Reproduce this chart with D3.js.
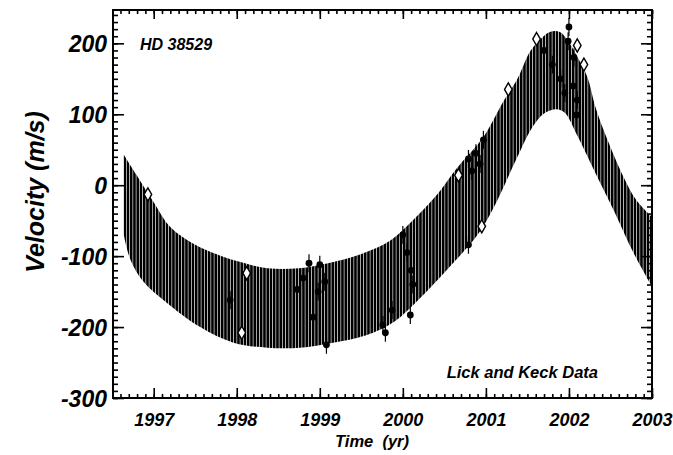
<!DOCTYPE html>
<html>
<head>
<meta charset="utf-8">
<script src="https://cdn.jsdelivr.net/npm/d3@7"></script>
<style>
  body { margin: 0; background: #fff; }
  svg text { font-family: "Liberation Sans", Arial, sans-serif; font-weight: bold; font-style: italic; fill: #000; }
</style>
</head>
<body>
<svg id="chart" width="673" height="455"></svg>
<script>
// Model band envelope: time in yr, velocity in m/s
const upperT = [1996.64, 1996.79, 1997.0, 1997.2, 1997.5, 1997.75, 1998.0, 1998.37, 1998.75, 1999.1, 1999.5, 1999.85, 2000.1, 2000.4, 2000.65, 2000.97, 2001.21, 2001.38, 2001.53, 2001.65, 2001.77, 2001.89, 2001.98, 2002.1, 2002.22, 2002.32, 2002.45, 2002.66, 2002.81, 2003.0];
const upperV = [43, 15, -24, -59, -84, -97, -107, -117, -117, -110, -97, -78, -52, -15, 24, 68, 118, 150, 188, 205, 216, 216, 205, 181, 153, 110, 68, 11, -21, -45];
const lowerT = [1996.64, 1996.72, 1996.87, 1997.16, 1997.56, 1997.96, 1998.37, 1998.76, 1999.16, 1999.55, 1999.9, 2000.2, 2000.54, 2000.9, 2001.1, 2001.38, 2001.55, 2001.7, 2001.85, 2001.95, 2002.1, 2002.34, 2002.55, 2002.78, 2003.0];
const lowerV = [-70, -105, -135, -166, -200, -222, -229, -229, -222, -212, -192, -160, -118, -70, -30, 40, 80, 101, 107, 102, 70, 12, -38, -96, -143];

// Lick data (filled circles)
const lickT = [1997.92, 1998.73, 1998.8, 1998.87, 1998.92, 1998.98, 1999.0, 1999.06, 1999.08, 1999.76, 1999.79, 1999.87, 2000.0, 2000.05, 2000.09, 2000.1, 2000.12, 2000.79, 2000.79, 2000.83, 2000.88, 2000.93, 2000.97, 2001.7, 2001.8, 2001.9, 2001.95, 2001.99, 2002.0, 2002.05, 2002.06, 2002.09, 2002.1];
const lickV = [-162, -147, -131, -110, -186, -150, -112, -136, -225, -197, -208, -176, -70, -95, -183, -120, -140, -84, 37, 20, 45, 30, 64, 190, 170, 150, 130, 203, 223, 140, 180, 99, 120];
const lickE = 7;

// Keck data (open diamonds)
const keckT = [1996.93, 1998.06, 1998.12, 2000.67, 2000.95, 2001.27, 2001.61, 2002.1, 2002.18];
const keckV = [-13, -208, -124, 14, -58, 135, 206, 197, 170];
const keckE = 3;

const xTicks = [1997, 1998, 1999, 2000, 2001, 2002, 2003];
const yTicks = [-300, -200, -100, 0, 100, 200];

const svg = d3.select("#chart");
const L = 113, R = 652, T = 10, B = 398;

const x = d3.scaleLinear().domain([1996.51, 2003.0]).range([L, R]);
const y = d3.scaleLinear().domain([-300, 247]).range([B, T]);

// vertical-line hatch used for the rapidly oscillating model curve
const defs = svg.append("defs");
const pat = defs.append("pattern")
  .attr("id", "hatch")
  .attr("patternUnits", "userSpaceOnUse")
  .attr("width", 3.25)
  .attr("height", 8);
pat.append("rect").attr("width", 3.25).attr("height", 8).attr("fill", "#fff");
pat.append("rect").attr("width", 2.6).attr("height", 8).attr("fill", "#000");

defs.append("clipPath").attr("id", "plotclip")
  .append("rect").attr("x", L).attr("y", T).attr("width", R - L).attr("height", B - T);

// band outline: smooth upper edge, then smooth lower edge walked backwards
const edge = d3.line().x((d) => x(d[0])).y((d) => y(d[1])).curve(d3.curveCatmullRom);
const up = upperT.map((t, i) => [t, upperV[i]]);
const lo = lowerT.map((t, i) => [t, lowerV[i]]).reverse();
const bandPath = edge(up) + "L" + edge(lo).slice(1) + "Z";

const plot = svg.append("g").attr("clip-path", "url(#plotclip)");

plot.append("path")
  .attr("d", bandPath)
  .attr("fill", "url(#hatch)")
  .attr("stroke", "none");

// error bars
const lick = lickT.map((t, i) => ({ t, v: lickV[i], e: lickE }));
const keck = keckT.map((t, i) => ({ t, v: keckV[i], e: keckE }));

plot.append("g")
  .selectAll("line")
  .data(lick.concat(keck))
  .join("line")
  .attr("x1", (d) => x(d.t))
  .attr("x2", (d) => x(d.t))
  .attr("y1", (d) => y(d.v - d.e) + 4)
  .attr("y2", (d) => y(d.v + d.e) - 4)
  .attr("stroke", "#000")
  .attr("stroke-width", 1.2);

plot.append("g")
  .selectAll("circle")
  .data(lick)
  .join("circle")
  .attr("cx", (d) => x(d.t))
  .attr("cy", (d) => y(d.v))
  .attr("r", 3.4)
  .attr("fill", "#000");

const dia = d3.symbol().type(d3.symbolDiamond).size(50);
plot.append("g")
  .selectAll("path")
  .data(keck)
  .join("path")
  .attr("transform", (d) => `translate(${x(d.t)},${y(d.v)})`)
  .attr("d", dia)
  .attr("fill", "#fff")
  .attr("stroke", "#000")
  .attr("stroke-width", 1.4);

// axes: inward ticks on all four sides
function minor(lo, hi, step) {
  return d3.range(Math.round(lo / step), Math.round(hi / step) + 1).map((k) => +(k * step).toFixed(3));
}
const xMinor = minor(1996.6, 2003.0, 0.1);
const yMinor = minor(-300, 240, 10);

function styleAxis(g) {
  g.select(".domain").remove();
  g.selectAll(".tick line").attr("stroke", "#000").attr("stroke-width", 1.6);
}

svg.append("g").attr("transform", `translate(0,${B})`)
  .call(d3.axisBottom(x).tickValues(xMinor).tickSize(-4).tickFormat(""))
  .call(styleAxis);
svg.append("g").attr("transform", `translate(0,${B})`)
  .call(d3.axisBottom(x).tickValues(xTicks).tickSize(-10).tickPadding(14).tickFormat((d) => String(d)))
  .call(styleAxis)
  .call((g) => g.selectAll("text").attr("font-size", 18).attr("dy", "0.75em"));

svg.append("g").attr("transform", `translate(0,${T})`)
  .call(d3.axisTop(x).tickValues(xMinor).tickSize(-4).tickFormat(""))
  .call(styleAxis);
svg.append("g").attr("transform", `translate(0,${T})`)
  .call(d3.axisTop(x).tickValues(xTicks).tickSize(-9).tickFormat(""))
  .call(styleAxis);

svg.append("g").attr("transform", `translate(${L},0)`)
  .call(d3.axisLeft(y).tickValues(yMinor).tickSize(-5).tickFormat(""))
  .call(styleAxis);
svg.append("g").attr("transform", `translate(${L},0)`)
  .call(d3.axisLeft(y).tickValues(yTicks).tickSize(-11).tickPadding(6).tickFormat((d) => String(d)))
  .call(styleAxis)
  .call((g) => g.selectAll("text").attr("font-size", 23).attr("dy", "0.36em"));

svg.append("g").attr("transform", `translate(${R},0)`)
  .call(d3.axisRight(y).tickValues(yMinor).tickSize(-5).tickFormat(""))
  .call(styleAxis);
svg.append("g").attr("transform", `translate(${R},0)`)
  .call(d3.axisRight(y).tickValues(yTicks).tickSize(-11).tickFormat(""))
  .call(styleAxis);

// frame
svg.append("rect")
  .attr("x", L).attr("y", T).attr("width", R - L).attr("height", B - T)
  .attr("fill", "none").attr("stroke", "#000").attr("stroke-width", 2);

// labels
svg.append("text").attr("x", 140).attr("y", 50).attr("font-size", 16).text("HD 38529");
svg.append("text").attr("x", 598).attr("y", 378).attr("font-size", 16.5)
  .attr("text-anchor", "end").text("Lick and Keck Data");
svg.append("text").attr("x", 372).attr("y", 447).attr("font-size", 16.5)
  .attr("text-anchor", "middle").attr("xml:space", "preserve").text("Time  (yr)");
svg.append("text")
  .attr("transform", "translate(44,192) rotate(-90)")
  .attr("font-size", 25)
  .attr("text-anchor", "middle")
  .text("Velocity (m/s)");
</script>
</body>
</html>
